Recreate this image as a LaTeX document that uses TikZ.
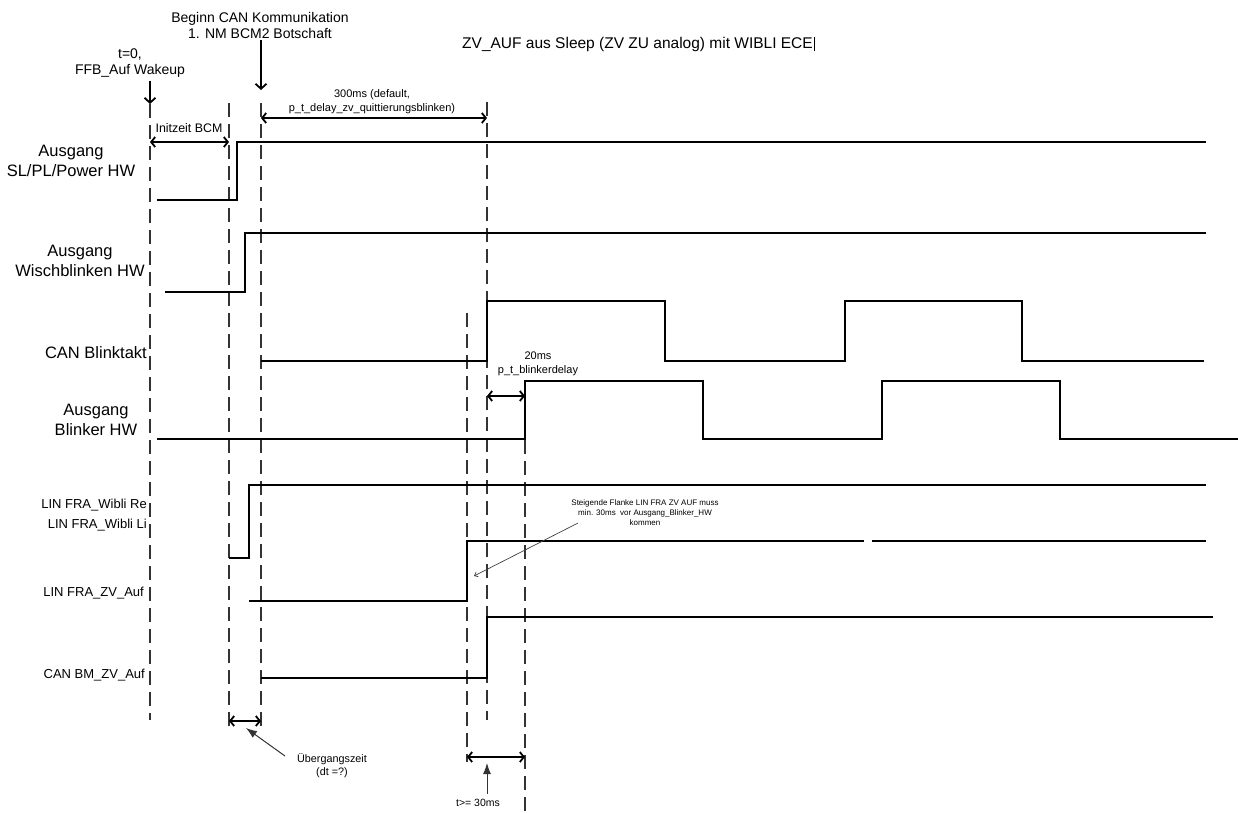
\documentclass[tikz,border=0pt]{standalone}
\usepackage{fontspec}
\setmainfont{Liberation Sans}
\usetikzlibrary{arrows.meta}
\begin{document}
\begin{tikzpicture}[x=1pt,y=-1pt,
  sig/.style={line width=2pt},
  guide/.style={line width=1.2pt, draw=black!80, dash pattern=on 14pt off 7pt},
  dimarrow/.style={line width=1.8pt, {Straight Barb[length=4pt,width=10pt]}-{Straight Barb[length=4pt,width=10pt]}},
  downarrow/.style={line width=1.8pt, -{Straight Barb[length=5pt,width=11pt]}},
  thinptr/.style={line width=0.7pt, draw=black!75, -{Straight Barb[length=3pt,width=5pt]}},
  fillptr/.style={line width=1pt, draw=black!80, -{Latex[length=11pt,width=8pt]}},
  biglbl/.style={font=\fontsize{16.5}{19.5}\selectfont, align=center, inner sep=0pt},
  midlbl/.style={font=\fontsize{13}{20}\selectfont, align=right, inner sep=0pt},
  toplbl/.style={font=\fontsize{14}{16}\selectfont, align=center, inner sep=0pt},
  smalllbl/.style={font=\fontsize{11}{14}\selectfont, align=center, inner sep=0pt},
  tinylbl/.style={font=\fontsize{8}{10}\selectfont, align=center, inner sep=0pt}
]
\useasboundingbox (0,0) rectangle (1238,812);

% ---------- title ----------
\node[inner sep=0pt, anchor=west, font=\fontsize{15.5}{18}\selectfont] (title) at (462,44) {ZV\_AUF aus Sleep (ZV ZU analog) mit WIBLI ECE};
\draw[line width=0.6pt] ([xshift=1.5pt,yshift=-7pt]title.east) -- ([xshift=1.5pt,yshift=7pt]title.east);

% ---------- guide coordinates ----------
\coordinate (g0top) at (150,104);   \coordinate (g0bot) at (150,720);
\coordinate (g1top) at (229,103);   \coordinate (g1bot) at (229,730);
\coordinate (g2top) at (261,103);   \coordinate (g2bot) at (261,730);
\coordinate (g3top) at (487,102);   \coordinate (g3bot) at (487,720);
\coordinate (g4top) at (467,313);   \coordinate (g4bot) at (467,762);
\coordinate (g5top) at (525,440);   \coordinate (g5bot) at (525,812);

\draw[guide] (g0top) -- (g0bot);
\draw[guide] (g1top) -- (g1bot);
\draw[guide] (g2top) -- (g2bot);
\draw[guide] (g3top) -- (g3bot);
\draw[guide] (g4top) -- (g4bot);
\draw[guide] (g5top) -- (g5bot);

% ---------- top annotations ----------
\node[toplbl] (tzero) at (130,63) {t=0,\\FFB\_Auf Wakeup};
\draw[downarrow] (tzero.south -| g0top) ++(0,3) -- (g0top);

\node[toplbl] (beginn) at (260,25) {Beginn CAN Kommunikation\\1. NM BCM2 Botschaft};
\coordinate (beginntip) at (261,90);
\draw[downarrow] (beginn.south -| beginntip) ++(0,2) -- (beginntip);

\node[smalllbl] (delay) at (372,102) {300ms (default,\\p\_t\_delay\_zv\_quittierungsblinken)};
\coordinate (d300a) at (261,118); \coordinate (d300b) at (487,118);
\draw[dimarrow] (d300a) -- (d300b);

\node[inner sep=0pt, font=\fontsize{12.4}{14}\selectfont] (initzeit) at (189,128) {Initzeit BCM};
\coordinate (dinita) at (150,142); \coordinate (dinitb) at (229,142);
\draw[dimarrow] (dinita) -- (dinitb);

% ---------- signal labels ----------
\node[biglbl] (lsl) at (71,161) {Ausgang\\SL/PL/Power HW};
\node[biglbl] (lwisch) at (80,261) {Ausgang\\Wischblinken HW};
\node[biglbl, anchor=east] (lcanb) at (147,353) {CAN Blinktakt};
\node[biglbl] (lblink) at (96,420) {Ausgang\\Blinker HW};
\node[midlbl, anchor=east] (lwibli) at (147,515) {LIN FRA\_Wibli Re\\LIN FRA\_Wibli Li};
\node[midlbl, anchor=east] (lzv) at (144,593) {LIN FRA\_ZV\_Auf};
\node[midlbl, anchor=east] (lbm) at (145,675) {CAN BM\_ZV\_Auf};

% ---------- waveforms ----------
\draw[sig] (157,200) -- (237,200) -- (237,142) -- (1206,142);
\draw[sig] (165,292) -- (245,292) -- (245,233) -- (1206,233);
\draw[sig] (261,361) -- (487,361) -- (487,301) -- (665,301) -- (665,361)
           -- (845,361) -- (845,301) -- (1022,301) -- (1022,361) -- (1204,361);
\draw[sig] (157,439) -- (525,439) -- (525,381) -- (703,381) -- (703,439)
           -- (882,439) -- (882,381) -- (1060,381) -- (1060,439) -- (1238,439);
\draw[sig] (229,558) -- (249,558) -- (249,485) -- (1206,485);
\draw[sig] (249,601) -- (467,601) -- (467,541) -- (864,541);
\draw[sig] (872,541) -- (1206,541);
\draw[sig] (261,678) -- (487,678) -- (487,617) -- (1213,617);

% ---------- 20ms ----------
\node[smalllbl] (blinkdelay) at (538,364) {20ms\\p\_t\_blinkerdelay};
\coordinate (d20a) at (487,396); \coordinate (d20b) at (525,396);
\draw[dimarrow] (d20a) -- (d20b);

% ---------- steigende Flanke note ----------
\node[tinylbl] (flanke) at (645,513) {Steigende Flanke LIN FRA ZV AUF muss\\min. 30ms\ \ vor Ausgang\_Blinker\_HW\\kommen};
\coordinate (flankefrom) at (578,523);
\coordinate (flanketip) at (474,576);
\draw[thinptr] (flankefrom) -- (flanketip);

% ---------- Uebergangszeit ----------
\coordinate (ddta) at (229,721); \coordinate (ddtb) at (261,721);
\draw[dimarrow] (ddta) -- (ddtb);
\node[inner sep=0pt, align=center, font=\fontsize{10.8}{13}\selectfont] (uebergang) at (332,766) {Übergangszeit\\(dt =?)};
\coordinate (uebfrom) at (285,756);
\coordinate (uebtip) at (246,728);
\draw[fillptr] (uebfrom) -- (uebtip);

% ---------- t >= 30ms ----------
\coordinate (d30a) at (467,757); \coordinate (d30b) at (525,757);
\draw[dimarrow] (d30a) -- (d30b);
\node[inner sep=0pt, font=\fontsize{10.5}{12}\selectfont] (t30) at (478,803) {t>= 30ms};
\coordinate (t30tip) at (487,763);
\draw[fillptr] (t30.north -| t30tip) ++(0,-5) -- (t30tip);
\end{tikzpicture}
\end{document}
